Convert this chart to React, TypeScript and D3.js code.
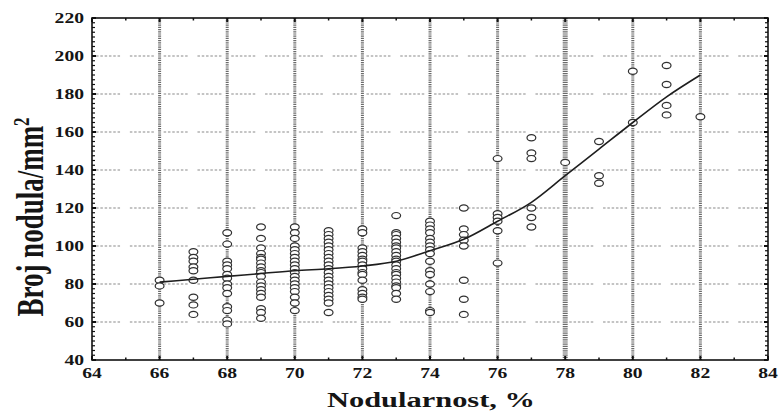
import React from 'react';
import * as d3 from 'd3';

const W = 779;
const H = 412;

const xTicks = [64, 66, 68, 70, 72, 74, 76, 78, 80, 82, 84];
const yTicks = [40, 60, 80, 100, 120, 140, 160, 180, 200, 220];
const gridX = [66, 68, 70, 72, 74, 76, 78, 80, 82];
const gridY = [60, 80, 100, 120, 140, 160, 180, 200];

const nodularity = [66, 67, 68, 69, 70, 71, 72, 73, 74, 75, 76, 77, 78, 79, 80, 81, 82];
const counts: number[][] = [
  [82, 79, 70],
  [97, 94, 92, 89, 87, 82, 73, 69, 64],
  [107, 101, 92, 90, 88, 85, 83, 80, 78, 75, 68, 66, 61, 59],
  [110, 104, 99, 96, 94, 93, 91, 89, 87, 86, 84, 81, 79, 77, 75, 73, 67, 65, 62],
  [110, 107, 104, 100, 98, 96, 94, 92, 90, 88, 86, 84, 82, 80, 78, 76, 73, 70, 66],
  [108, 106, 104, 102, 100, 98, 96, 94, 92, 90, 88, 86, 84, 82, 80, 78, 76, 74, 72, 70, 65],
  [109, 107, 99, 97, 95, 93, 92, 90, 88, 86, 85, 82, 77, 75, 73, 72],
  [116, 107, 106, 104, 102, 100, 99, 97, 95, 93, 92, 90, 88, 86, 85, 83, 81, 79, 78, 75, 72],
  [113, 111, 109, 107, 104, 102, 100, 98, 96, 92, 87, 85, 80, 76, 66, 65],
  [120, 109, 106, 103, 100, 82, 72, 64],
  [146, 117, 115, 113, 108, 91],
  [157, 149, 146, 120, 115, 110],
  [144],
  [155, 137, 133],
  [192, 165],
  [195, 185, 174, 169],
  [168],
];

const fitX = [66, 67, 68, 69, 70, 71, 72, 73, 74, 75, 76, 77, 78, 79, 80, 81, 82];
const fitY = [81, 82.5, 84, 85.5, 87, 88, 89.5, 92, 97.5, 103.5, 113, 123, 137, 151, 165, 178.5, 190];

const FONT = '"Liberation Serif", "Times New Roman", serif';
const INK = '#151515';

export default function App() {
  const x = d3.scaleLinear().domain([64, 84]).range([92, 768]);
  const y = d3.scaleLinear().domain([40, 220]).range([360, 18]);

  const points = nodularity.flatMap((n, i) => counts[i].map((v) => ({ n, v })));
  const line = d3
    .line<number>()
    .x((_, i) => x(fitX[i]))
    .y((d) => y(d))
    .curve(d3.curveMonotoneX);

  const minorX = d3.range(65, 84, 2);
  const minorY = d3.range(40, 220.01, 2.5).filter((v) => v % 20 !== 0);
  const units = d3.range(64, 84, 1);

  const [x0, x1] = x.range();
  const [y0, y1] = y.range();

  return (
    <svg width={W} height={H} style={{ position: 'absolute', left: 0, top: 0, background: '#fff' }}>
      {/* horizontal dotted grid segments */}
      {gridY.map((g) =>
        units.map((u) => (
          <line
            key={`h${g}-${u}`}
            x1={x(u + 0.12)}
            x2={x(u + 0.85)}
            y1={y(g)}
            y2={y(g)}
            stroke="#8a8a8a"
            strokeWidth={1.2}
            strokeDasharray="2.5,1.8"
          />
        ))
      )}
      {/* vertical dotted grid */}
      {gridX.map((g) => (
        <line
          key={`v${g}`}
          x1={x(g)}
          x2={x(g)}
          y1={y1}
          y2={y0}
          stroke="#6a6a6a"
          strokeWidth={g === 78 ? 5 : 3}
          strokeDasharray="1.2,1"
        />
      ))}
      {/* points */}
      {points.map((p, i) => (
        <ellipse
          key={`p${i}`}
          cx={x(p.n)}
          cy={y(p.v)}
          rx={4.4}
          ry={3.1}
          fill="#fff"
          stroke="#303030"
          strokeWidth={1.2}
        />
      ))}
      {/* fit curve */}
      <path d={line(fitY) || ''} fill="none" stroke="#1e1e1e" strokeWidth={1.6} />
      {/* frame */}
      <rect x={x0} y={y1} width={x1 - x0} height={y0 - y1} fill="none" stroke="#111" strokeWidth={1.6} />
      {/* major ticks */}
      {xTicks.map((t) => (
        <g key={`xt${t}`}>
          <line x1={x(t)} x2={x(t)} y1={y0} y2={y0 - 4} stroke="#111" strokeWidth={2} />
          <line x1={x(t)} x2={x(t)} y1={y1} y2={y1 + 4} stroke="#111" strokeWidth={2} />
        </g>
      ))}
      {minorX.map((t) => (
        <g key={`xm${t}`}>
          <line x1={x(t)} x2={x(t)} y1={y0} y2={y0 - 2.5} stroke="#111" strokeWidth={1.5} />
          <line x1={x(t)} x2={x(t)} y1={y1} y2={y1 + 2.5} stroke="#111" strokeWidth={1.5} />
        </g>
      ))}
      {yTicks.map((t) => (
        <g key={`yt${t}`}>
          <line x1={x0} x2={x0 + 4} y1={y(t)} y2={y(t)} stroke="#111" strokeWidth={2} />
          <line x1={x1} x2={x1 - 4} y1={y(t)} y2={y(t)} stroke="#111" strokeWidth={2} />
        </g>
      ))}
      {minorY.map((t) => (
        <g key={`ym${t}`}>
          <line x1={x0} x2={x0 + 3} y1={y(t)} y2={y(t)} stroke="#111" strokeWidth={1.2} />
          <line x1={x1} x2={x1 - 3} y1={y(t)} y2={y(t)} stroke="#111" strokeWidth={1.2} />
        </g>
      ))}
      {/* tick labels */}
      {xTicks.map((t) => (
        <text
          key={`xl${t}`}
          transform={`translate(${x(t)},378) scale(1.4,1)`}
          textAnchor="middle"
          fontFamily={FONT}
          fontWeight="bold"
          fontSize={14}
          fill={INK}
        >
          {t}
        </text>
      ))}
      {yTicks.map((t) => (
        <text
          key={`yl${t}`}
          transform={`translate(84,${y(t) + 4.8}) scale(1.4,1)`}
          textAnchor="end"
          fontFamily={FONT}
          fontWeight="bold"
          fontSize={14}
          fill={INK}
        >
          {t}
        </text>
      ))}
      {/* axis titles */}
      <text
        transform={`translate(${(x0 + x1) / 2 + 1},406.5) scale(1.45,1)`}
        textAnchor="middle"
        fontFamily={FONT}
        fontWeight="bold"
        fontSize={21}
        fill={INK}
      >
        Nodularnost, %
      </text>
      <text
        transform={`translate(43,217) rotate(-90) scale(1,1.37)`}
        textAnchor="middle"
        fontFamily={FONT}
        fontWeight="bold"
        fontSize={27}
        fill={INK}
      >
        Broj nodula/mm
        <tspan dy={-10} fontSize={17}>
          2
        </tspan>
      </text>
    </svg>
  );
}
